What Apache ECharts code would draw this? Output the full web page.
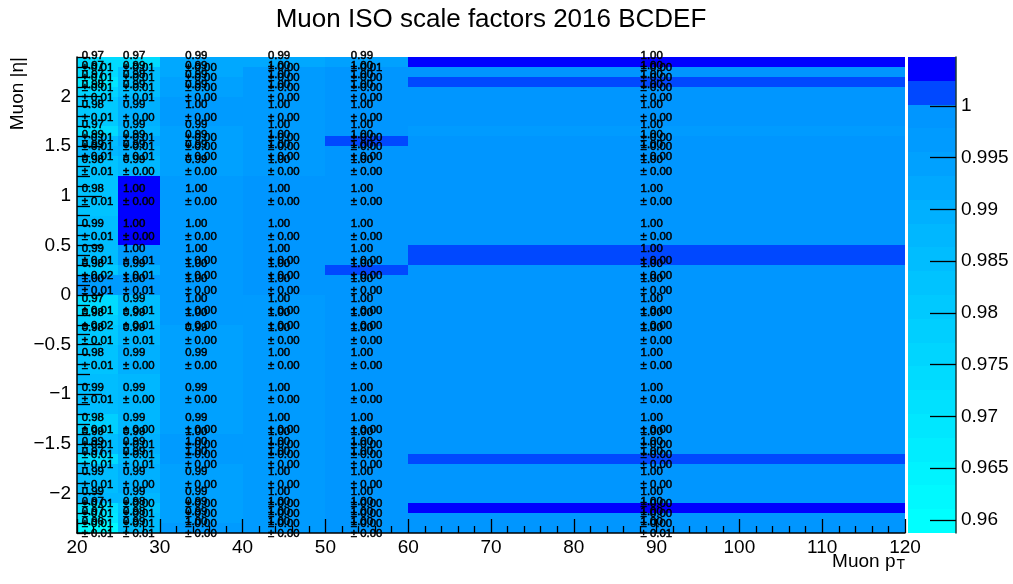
<!DOCTYPE html>
<html><head><meta charset="utf-8">
<style>html,body{margin:0;padding:0;background:#fff}#c{width:1013px;height:584px}</style>
<script src="https://cdn.jsdelivr.net/npm/echarts@6/dist/echarts.min.js"></script>
</head><body><div id="c"></div>
<script>
const titleText = 'Muon ISO scale factors 2016 BCDEF';
const ptEdges = [20, 25, 30, 40, 50, 60, 120];
const etaEdges = [2.4, 2.3, 2.2, 2.1, 2.0, 1.7, 1.6, 1.5, 1.4, 1.2, 0.8, 0.5, 0.3, 0.2, 0, -0.2, -0.3, -0.5, -0.8, -1.2, -1.4, -1.5, -1.6, -1.7, -2.0, -2.1, -2.2, -2.3, -2.4];
const sfPt20 = [.974, .973, .969, .976, .981, .974, .986, .988, .984, .982, .986, .986, .98, .996, .974, .978, .98, .982, .986, .979, .986, .986, .974, .986, .987, .972, .968, .963];
const sfPt25 = [.974, .986, .985, .986, .99, .987, .993, .99, .988, 1.003, 1.003, .997, .99, .996, .986, .986, .987, .99, .987, .988, .989, .989, .987, .99, .988, .984, .985, .986];
const sfPt30 = [.993, .993, .994, .994, .996, .994, .994, .994, .994, .997, .997, .997, .997, .997, .996, .996, .994, .994, .994, .994, .996, .996, .996, .994, .994, .994, .994, .996];
const sfPt40 = [.993, .997, .997, .997, .997, .997, .997, .997, .997, .998, .998, .998, .998, .998, .997, .997, .997, .997, .997, .997, .997, .997, .997, .997, .997, .997, .997, .997];
const sfPt50 = [.994, .998, .998, .998, .998, .998, 1.001, .998, .998, .998, .998, .998, 1.001, .998, .998, .998, .998, .998, .998, .998, .998, .998, .998, .998, .998, .998, .998, .998];
const sfPt60 = [1.003, .9985, 1.001, .9985, .9985, .997, .9985, .9985, .9985, .9985, .9985, 1.001, .9985, .9985, .9985, .9985, .9985, .9985, .9985, .9985, .9985, .9985, 1.001, .9985, .9985, 1.003, .9985, .9985];
const errPt20 = [.01, .01, .01, .01, .01, .01, .01, .01, .01, .01, .01, .01, .02, .01, .01, .02, .01, .01, .01, .01, .01, .01, .01, .01, .01, .01, .01, .01];
const errPt25 = [.01, .01, .01, .01, .00, .01, .01, .01, .00, .00, .00, .01, .01, .01, .01, .01, .01, .00, .00, .00, .01, .01, .01, .00, .00, .01, .01, .01];
const errPt30 = [.00, .00, .00, .00, .00, .00, .00, .00, .00, .00, .00, .00, .00, .00, .00, .00, .00, .00, .00, .00, .00, .00, .00, .00, .00, .00, .00, .00];
const errPt40 = [.00, .00, .00, .00, .00, .00, .00, .00, .00, .00, .00, .00, .00, .00, .00, .00, .00, .00, .00, .00, .00, .00, .00, .00, .00, .00, .00, .00];
const errPt50 = [.01, .00, .00, .00, .00, .00, .00, .00, .00, .00, .00, .00, .00, .00, .00, .00, .00, .00, .00, .00, .00, .00, .00, .00, .00, .00, .00, .00];
const errPt60 = [.00, .00, .00, .00, .00, .00, .00, .00, .00, .00, .00, .00, .00, .00, .00, .00, .00, .00, .00, .00, .00, .00, .00, .00, .00, .00, .00, .01];
const sfColumns = [sfPt20, sfPt25, sfPt30, sfPt40, sfPt50, sfPt60];
const errColumns = [errPt20, errPt25, errPt30, errPt40, errPt50, errPt60];
const etaTicks = [-2, -1.5, -1, -0.5, 0, 0.5, 1, 1.5, 2];
const etaMinorTicks = [-2.4,-2.3,-2.2,-2.1,-1.9,-1.8,-1.7,-1.6,-1.4,-1.3,-1.2,-1.1,-0.9,-0.8,-0.7,-0.6,-0.4,-0.3,-0.2,-0.1,0.1,0.2,0.3,0.4,0.6,0.7,0.8,0.9,1.1,1.2,1.3,1.4,1.6,1.7,1.8,1.9,2.1,2.2,2.3,2.4];
const zTicks = [0.96, 0.965, 0.97, 0.975, 0.98, 0.985, 0.99, 0.995, 1];
const zMin = 0.95874, zMax = 1.00473;
const paletteGreen = [255,249,243,237,231,225,219,213,207,201,195,189,183,176,168,161,155,150,72,0];
const levels = paletteGreen.length;

const font = '"Liberation Sans", Helvetica, Arial, sans-serif';
function levelOf(v){ return Math.max(0, Math.min(levels-1, Math.floor((v-zMin)/(zMax-zMin)*levels))); }
function colorOf(level){ return 'rgb(0,'+paletteGreen[level]+',255)'; }

const cells = [];
sfColumns.forEach((col, i) => col.forEach((v, j) => {
  cells.push([ptEdges[i], ptEdges[i+1], etaEdges[j+1], etaEdges[j], v, errColumns[i][j]]);
}));
const levelCells = paletteGreen.map((g, i) => [zMin+(zMax-zMin)*i/levels, zMin+(zMax-zMin)*(i+1)/levels, i]);

function pixelRect(a, b, fill){
  const x0 = Math.round(a[0]), y0 = Math.round(a[1]), x1 = Math.round(b[0]), y1 = Math.round(b[1]);
  return {type:'rect', shape:{x:x0, y:y0, width:x1-x0, height:y1-y0}, style:{fill:fill}};
}
function renderCell(params, api){
  return pixelRect(api.coord([api.value(0), api.value(3)]), api.coord([api.value(1), api.value(2)]),
    colorOf(levelOf(api.value(4))));
}
function renderText(params, api){
  const c = api.coord([(api.value(0)+api.value(1))/2, (api.value(2)+api.value(3))/2]);
  const st = {fill:'#000', stroke:'#000', lineWidth:0.5, font:'11.4px '+font, textAlign:'left', textVerticalAlign:'middle'};
  return {type:'group', children:[
    {type:'text', x:c[0]-16, y:c[1]-6.5, style:Object.assign({text:api.value(4).toFixed(2)}, st)},
    {type:'text', x:c[0]-16, y:c[1]+6, style:Object.assign({text:'\u00b1 '+api.value(5).toFixed(2)}, st)}
  ]};
}
function renderLevel(params, api){
  return pixelRect(api.coord([0, api.value(1)]), api.coord([1, api.value(0)]), colorOf(api.value(2)));
}

const axisLbl = {color:'#000', fontFamily:font, fontSize:19};
const chart = echarts.init(document.getElementById('c'), null, {renderer:'canvas'});
chart.setOption({
  animation:false,
  backgroundColor:'#fff',
  title:{text:titleText, left:486, top:2, textAlign:'center',
    textStyle:{color:'#000', fontFamily:font, fontWeight:'normal', fontSize:26}},
  grid:[
    {left:77, right:108, top:57, bottom:51},
    {left:908, width:48, top:57, bottom:51}
  ],
  xAxis:[
    {type:'value', gridIndex:0, min:20, max:120, interval:10, z:3,
     axisLine:{show:true, onZero:false, lineStyle:{color:'#000', width:1.5}},
     axisTick:{show:true, inside:true, length:14, lineStyle:{color:'#000', width:1.3}},
     minorTick:{show:true, splitNumber:5, length:7, lineStyle:{color:'#000', width:1.3}},
     splitLine:{show:false},
     axisLabel:Object.assign({margin:5, showMinLabel:true, showMaxLabel:true}, axisLbl),
     name:'{a|Muon p}{b|T}', nameLocation:'end', nameGap:0, nameMoveOverlap:false,
     nameTextStyle:{align:'right', verticalAlign:'top', padding:[19,0,0,0], color:'#000', fontFamily:font,
       rich:{a:{fontSize:19, color:'#000', fontFamily:font, verticalAlign:'top', lineHeight:20},
             b:{fontSize:14, color:'#000', fontFamily:font, verticalAlign:'bottom', lineHeight:14, padding:[17,0,0,1]}}}},
    {type:'value', gridIndex:1, min:0, max:1, show:false}
  ],
  yAxis:[
    {type:'value', gridIndex:0, position:'left', min:-2.4, max:2.4, z:3,
     axisLine:{show:true, onZero:false, lineStyle:{color:'#000', width:1.5}},
     axisTick:{show:true, inside:true, length:25, customValues:etaTicks, lineStyle:{color:'#000', width:1.3}},
     splitLine:{show:false},
     axisLabel:Object.assign({margin:6, padding:[2,0,0,0], customValues:etaTicks,
       formatter:v=>String(v).replace('-','\u2212')}, axisLbl),
     name:'Muon |\u03b7|', nameLocation:'end', nameRotate:90, nameGap:0, nameMoveOverlap:false,
     nameTextStyle:{align:'right', verticalAlign:'bottom', padding:[0,0,50,0], color:'#000', fontFamily:font, fontSize:19}},
    {type:'value', gridIndex:0, position:'left', min:-2.4, max:2.4, z:3,
     axisLine:{show:false, onZero:false},
     axisTick:{show:true, inside:true, length:13, customValues:etaMinorTicks, lineStyle:{color:'#000', width:1.3}},
     axisLabel:{show:false}, splitLine:{show:false}},
    {type:'value', gridIndex:1, position:'right', min:zMin, max:zMax, z:3,
     axisLine:{show:true, onZero:false, lineStyle:{color:'#1a3a3a', width:1.5}},
     axisTick:{show:true, inside:true, length:26, customValues:zTicks, lineStyle:{color:'#000', width:1.3}},
     splitLine:{show:false},
     axisLabel:Object.assign({margin:5, padding:[2,0,0,0], customValues:zTicks, hideOverlap:false, formatter:v=>String(v)}, axisLbl)}
  ],
  series:[
    {type:'custom', name:'sf', xAxisIndex:0, yAxisIndex:0, z:1, silent:true, clip:true,
     data:cells, encode:{x:[0,1], y:[2,3]}, renderItem:renderCell},
    {type:'custom', name:'palette', xAxisIndex:1, yAxisIndex:2, z:1, silent:true,
     data:levelCells, encode:{y:[0,1]}, renderItem:renderLevel},
    {type:'custom', name:'text', xAxisIndex:0, yAxisIndex:0, z:5, silent:true, clip:false,
     data:cells, encode:{x:[0,1], y:[2,3]}, renderItem:renderText}
  ]
});
</script></body></html>
